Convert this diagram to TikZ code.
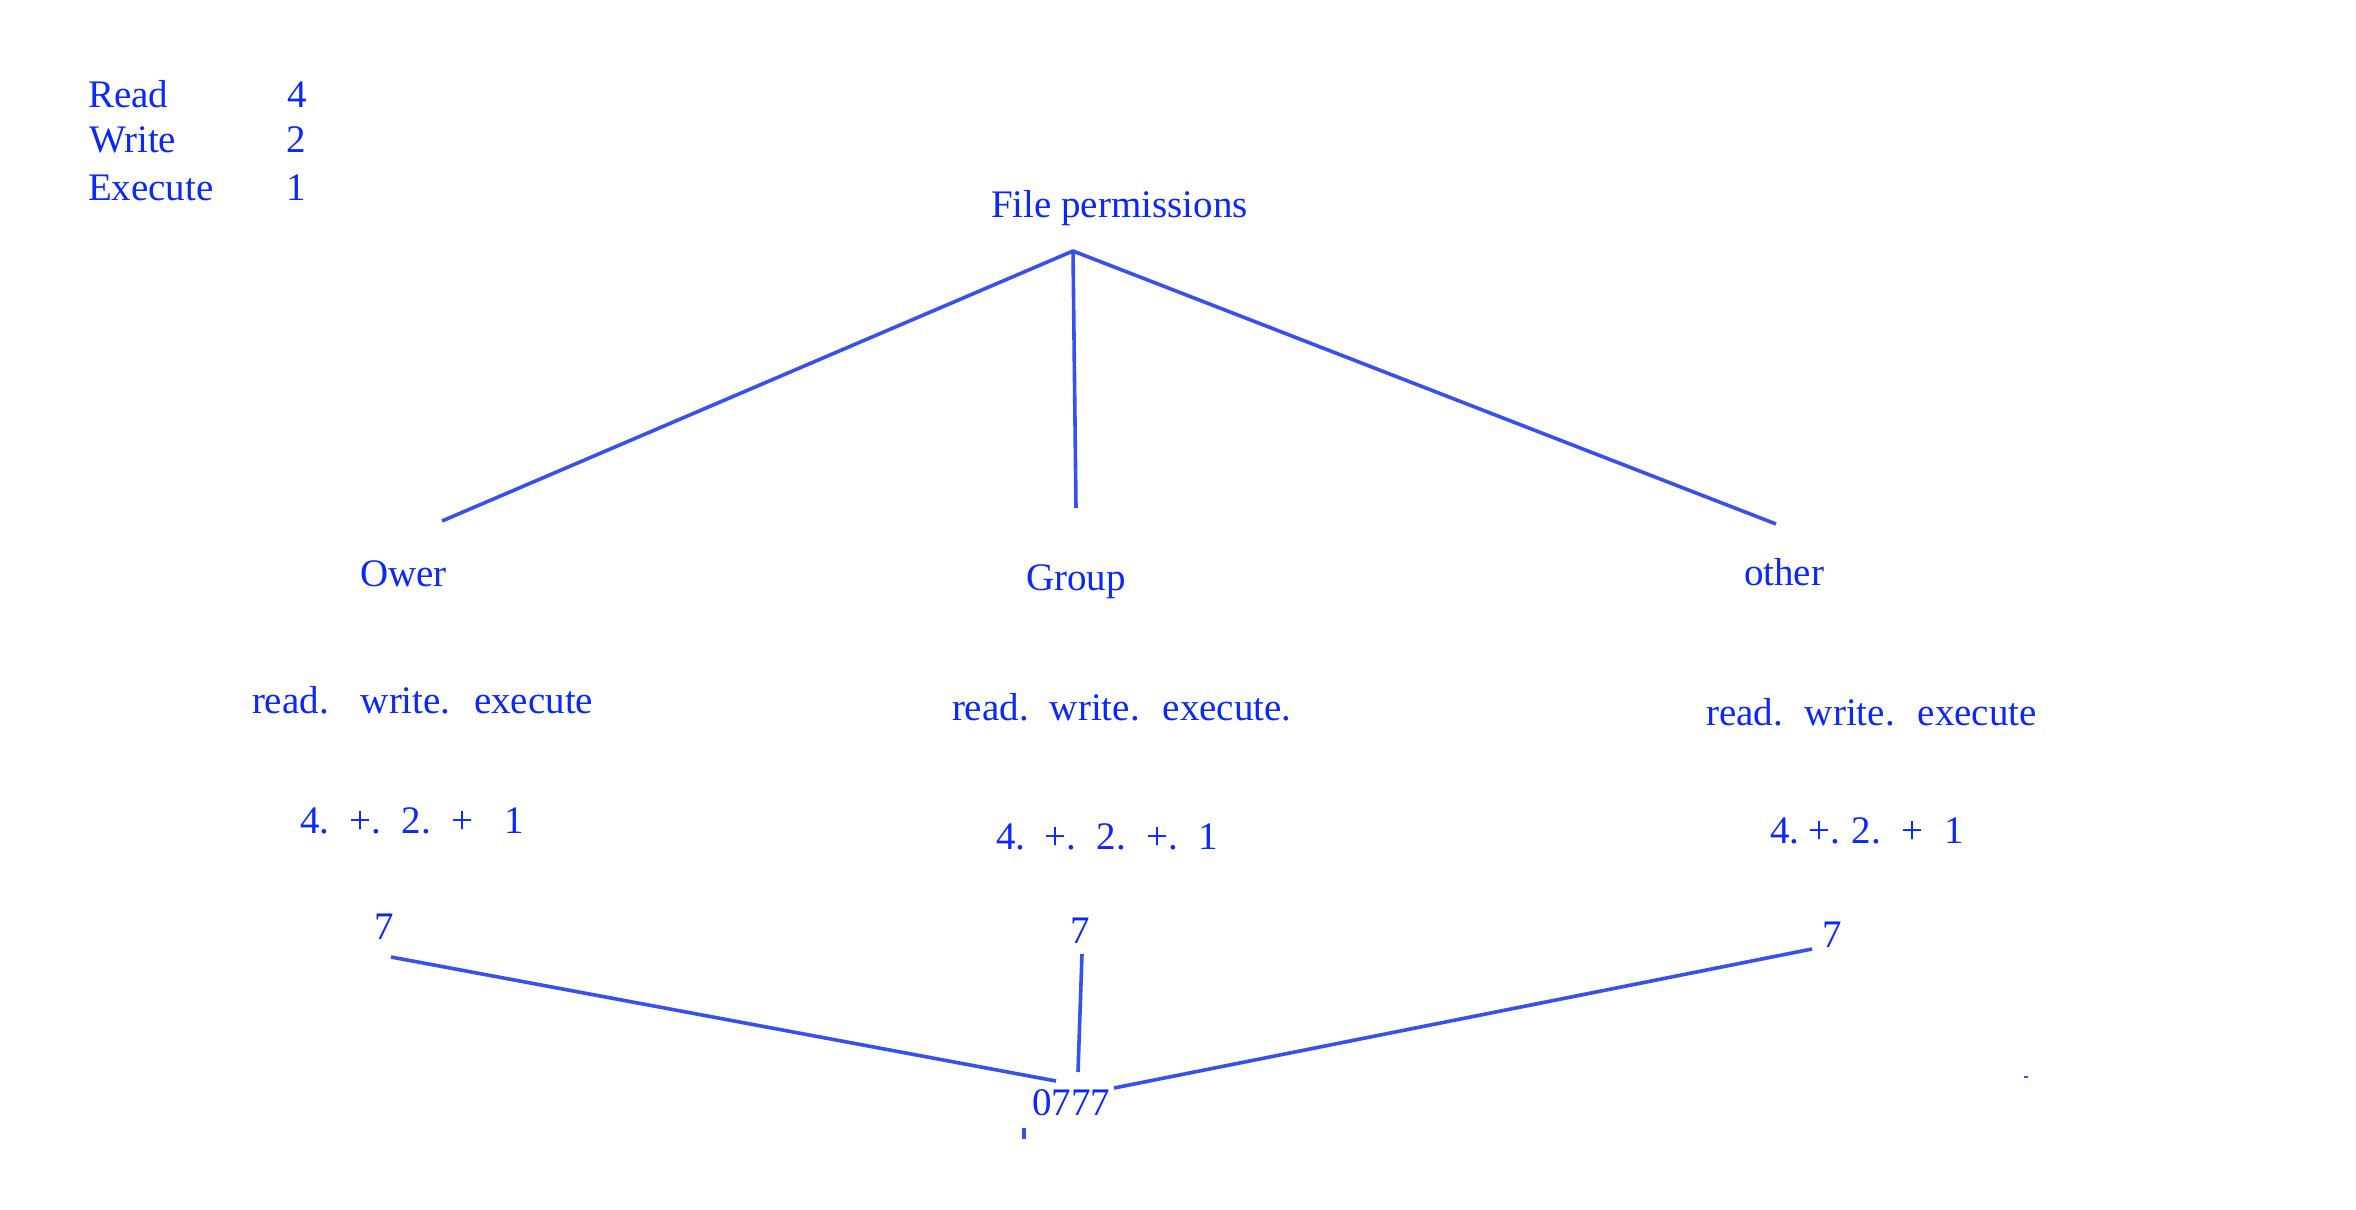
\documentclass[tikz,border=0pt]{standalone}
\usepackage{fontspec}
\setmainfont{Liberation Serif}
\definecolor{textblue}{RGB}{10,40,252}
\definecolor{lineblue}{RGB}{55,80,240}
\begin{document}
\begin{tikzpicture}[x=0.5pt,y=-0.5pt,
  lbl/.style={anchor=base west,inner sep=0pt,outer sep=0pt,text=textblue,font=\fontsize{19.5}{23}\selectfont},
  conn/.style={draw=lineblue,line width=1.8pt,line cap=butt,line join=round}]
\useasboundingbox (0,0) rectangle (2356,1210);
% legend
\node[lbl] (read) at (88,107) {Read};
\node[lbl] (readv) at (287,107) {4};
\node[lbl] (write) at (89,152) {Write};
\node[lbl] (writev) at (286,152) {2};
\node[lbl] (exec) at (88,200) {Execute};
\node[lbl] (execv) at (286,200) {1};
% title
\node[lbl] (title) at (991,217) {File permissions};
% categories
\node[lbl] (owner) at (360,586) {Ower};
\node[lbl] (group) at (1026,590) {Group};
\node[lbl] (other) at (1744,585) {other};
% rwx lines
\node[lbl] (ownrwx) at (252,713) {read.\hspace{16pt}write.\hspace{11.7pt}execute};
\node[lbl] (grprwx) at (952,720) {read.\hspace{10.5pt}write.\hspace{11.5pt}execute.};
\node[lbl] (othrwx) at (1706,725) {read.\hspace{11pt}write.\hspace{11.5pt}execute};
% sums
\node[lbl] (ownsum) at (300,833) {4.\hspace{10pt}+.\hspace{10.5pt}2.\hspace{10pt}+\hspace{15.5pt}1};
\node[lbl] (grpsum) at (996,849) {4.\hspace{9.5pt}+.\hspace{10.5pt}2.\hspace{10pt}+.\hspace{10.5pt}1};
\node[lbl] (othsum) at (1770,843) {4.\hspace{4.5pt}+.\hspace{6pt}2.\hspace{10pt}+\hspace{10.5pt}1};
% results
\node[lbl] (own7) at (374,939) {7};
\node[lbl] (grp7) at (1070,943) {7};
\node[lbl] (oth7) at (1822,947) {7};
\node[lbl] (total) at (1032,1115) {0777};
% connector ends
\coordinate (apex) at (1073,251);
\coordinate (ownTop) at (442,521);
\coordinate (grpTop) at (1076,508);
\coordinate (othTop) at (1776,524);
\coordinate (ownBot) at (391,957);
\coordinate (grpBot) at (1082,954);
\coordinate (othBot) at (1812,949);
\coordinate (zL) at (1056,1081);
\coordinate (zM) at (1078,1072);
\coordinate (zR) at (1114,1088);
\draw[conn] (ownTop) -- (apex) -- (othTop);
\draw[conn] (apex) -- (grpTop);
\draw[conn] (ownBot) -- (zL);
\draw[conn] (grpBot) -- (zM);
\draw[conn] (othBot) -- (zR);
% stray marks
\coordinate (tickA) at (1024,1128);
\coordinate (tickB) at (1024,1139);
\draw[conn] (tickA) -- (tickB);
\coordinate (dashA) at (2024,1077);
\coordinate (dashB) at (2028,1077);
\draw[draw=lineblue,line width=1pt] (dashA) -- (dashB);
\end{tikzpicture}
\end{document}
